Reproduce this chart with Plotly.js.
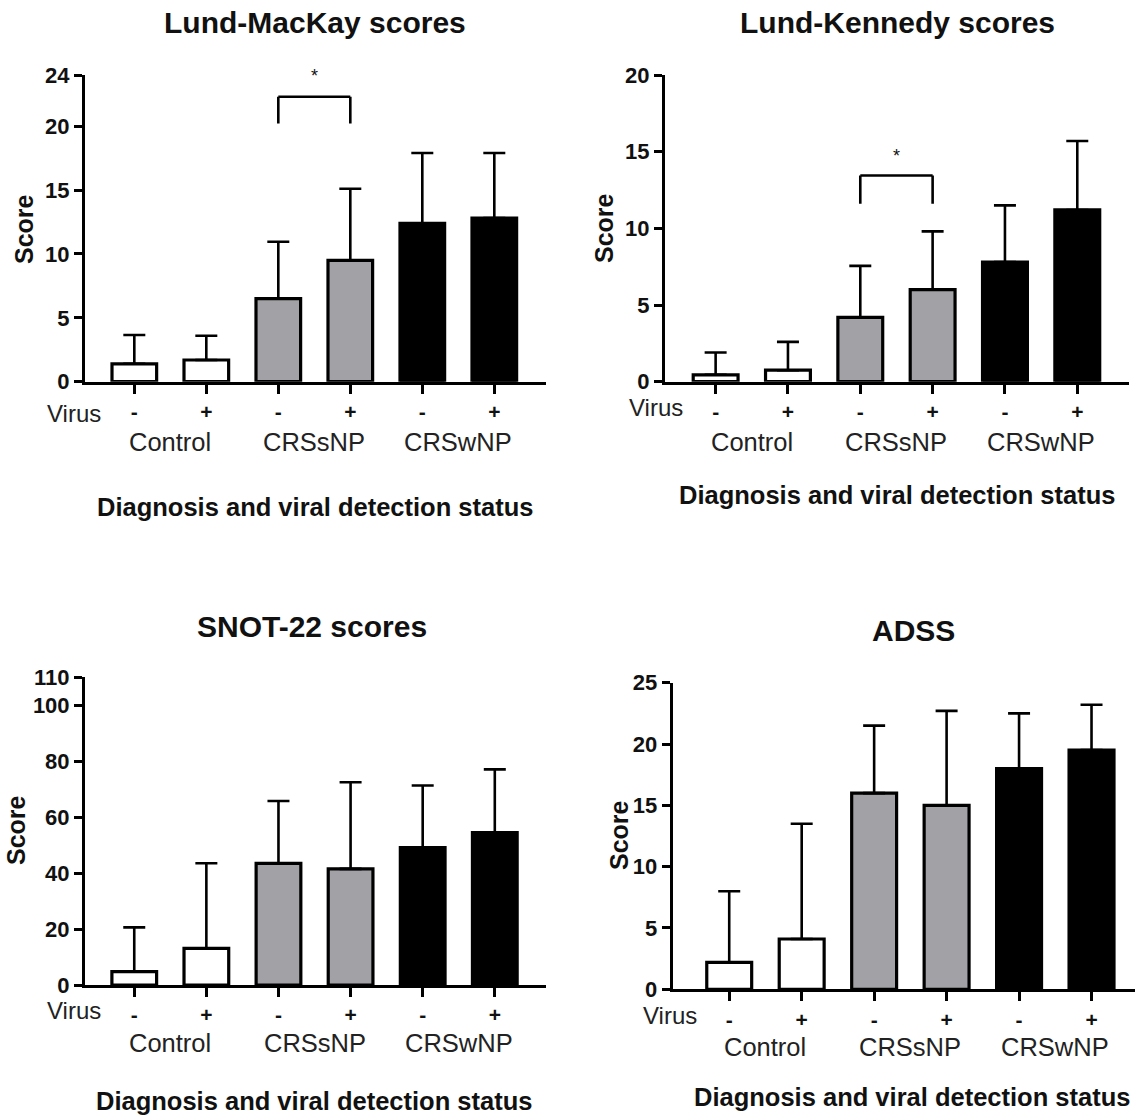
<!DOCTYPE html>
<html>
<head>
<meta charset="utf-8">
<script src="https://cdn.plot.ly/plotly-3.0.1.min.js"></script>
<style>html,body{margin:0;padding:0;background:#fff;}#chart{width:1135px;height:1115px;}</style>
</head>
<body>
<div id="chart"></div>
<script>
// ---- data ----
const categories = ['Control/-', 'Control/+', 'CRSsNP/-', 'CRSsNP/+', 'CRSwNP/-', 'CRSwNP/+'];
const virusSigns = ['-', '+', '-', '+', '-', '+'];
const groupNames = ['Control', 'CRSsNP', 'CRSwNP'];
const barColors = ['#ffffff', '#ffffff', '#a2a2a6', '#a2a2a6', '#000000', '#000000'];

const panelTitles = ['Lund-MacKay scores', 'Lund-Kennedy scores', 'SNOT-22 scores', 'ADSS'];
const xTitle = 'Diagnosis and viral detection status';
const yTitle = 'Score';

const lundMacKayMean = [1.4, 1.7, 6.5, 9.5, 12.4, 12.8];
const lundMacKaySD = [2.25, 1.9, 4.45, 5.6, 5.5, 5.1];
const lundKennedyMean = [0.45, 0.75, 4.2, 6.0, 7.8, 11.2];
const lundKennedySD = [1.45, 1.85, 3.35, 3.8, 3.7, 4.5];
const snot22Mean = [4.8, 13.1, 43.5, 41.5, 49.1, 54.5];
const snot22SD = [15.8, 30.4, 22.3, 31.0, 22.2, 22.6];
const adssMean = [2.2, 4.1, 16.0, 15.0, 18.0, 19.5];
const adssSD = [5.8, 9.4, 5.5, 7.7, 4.5, 3.7];

const lmTicks = [0, 5, 10, 15, 20, 24];
const lkTicks = [0, 5, 10, 15, 20];
const snotTicks = [0, 20, 40, 60, 80, 100, 110];
const adssTicks = [0, 5, 10, 15, 20, 25];

// significance brackets: [from category index, to category index, leg bottom, bracket top, star]
const lmBracket = [2, 3, 20.2, 22.3, 23.9];
const lkBracket = [2, 3, 11.6, 13.45, 14.7];

// ---- layout helpers ----
const W = 1135, H = 1115;
const px = v => v / W;
const py = v => 1 - v / H;
const FONT = 'Liberation Sans, Arial, sans-serif';

const panels = [
  {mean: lundMacKayMean, sd: lundMacKaySD, ticks: lmTicks, xd: [85, 546], yd: [381.7, 75], xr: [-0.685, 5.718],
   title: [315, 22.5], xt: [315, 507], yt: [24, 229], virus: [103, 413], grp: 442, bracket: lmBracket},
  {mean: lundKennedyMean, sd: lundKennedySD, ticks: lkTicks, xd: [665, 1129], yd: [381.7, 75], xr: [-0.70, 5.715],
   title: [897, 22.5], xt: [897, 495], yt: [604, 228], virus: [685, 407], grp: 442, bracket: lkBracket},
  {mean: snot22Mean, sd: snot22SD, ticks: snotTicks, xd: [85, 546], yd: [985, 677.3], xr: [-0.683, 5.71],
   title: [312, 626], xt: [314, 1101], yt: [16, 830], virus: [103, 1010], grp: 1043, bracket: null},
  {mean: adssMean, sd: adssSD, ticks: adssTicks, xd: [672.7, 1135], yd: [989.3, 682.7], xr: [-0.78, 5.6],
   title: [913, 631], xt: [912, 1097], yt: [619, 835], virus: [699, 1015], grp: 1047, bracket: null}
];

const traces = [];
const layout = {
  width: W, height: H,
  margin: {l: 0, r: 0, t: 0, b: 0},
  paper_bgcolor: '#ffffff', plot_bgcolor: '#ffffff',
  showlegend: false,
  font: {family: FONT, color: '#111111'},
  annotations: [], shapes: []
};

panels.forEach((p, i) => {
  const n = i + 1;
  const xa = 'x' + (n === 1 ? '' : n), ya = 'y' + (n === 1 ? '' : n);
  const xk = 'xaxis' + (n === 1 ? '' : n), yk = 'yaxis' + (n === 1 ? '' : n);
  traces.push({
    type: 'bar', x: categories, y: p.mean, xaxis: xa, yaxis: ya,
    width: 0.62,
    marker: {color: barColors, line: {color: '#000000', width: 3.2}},
    error_y: {type: 'data', symmetric: false, array: p.sd, arrayminus: p.sd.map(() => 0),
              color: '#000000', thickness: 2.6, width: 11},
    hoverinfo: 'y'
  });
  layout[xk] = {
    domain: [px(p.xd[0]), px(p.xd[1])], anchor: ya, type: 'category',
    range: p.xr, showgrid: false, zeroline: false,
    showline: true, linecolor: '#000000', linewidth: 3,
    ticks: 'outside', ticklen: 9, tickwidth: 3, tickcolor: '#000000',
    tickvals: categories, ticktext: virusSigns, ticklabelstandoff: 0,
    tickfont: {family: FONT, size: 21, weight: 'bold', color: '#111111'},
    fixedrange: true
  };
  layout[yk] = {
    domain: [py(p.yd[0]), py(p.yd[1])], anchor: xa,
    range: [0, p.ticks[p.ticks.length - 1]], showgrid: false, zeroline: false,
    showline: true, linecolor: '#000000', linewidth: 3,
    ticks: 'outside', ticklen: 8, tickwidth: 3, tickcolor: '#000000',
    tickvals: p.ticks, ticktext: p.ticks.map(String),
    tickfont: {family: FONT, size: 22, weight: 'bold', color: '#111111'},
    fixedrange: true
  };
  // panel title
  layout.annotations.push({text: panelTitles[i], xref: 'paper', yref: 'paper', x: px(p.title[0]), y: py(p.title[1]),
    xanchor: 'center', yanchor: 'middle', showarrow: false, font: {family: FONT, size: 30, weight: 'bold', color: '#111111'}});
  // x title
  layout.annotations.push({text: xTitle, xref: 'paper', yref: 'paper', x: px(p.xt[0]), y: py(p.xt[1]),
    xanchor: 'center', yanchor: 'middle', showarrow: false, font: {family: FONT, size: 25.5, weight: 'bold', color: '#111111'}});
  // y title
  layout.annotations.push({text: yTitle, xref: 'paper', yref: 'paper', x: px(p.yt[0]), y: py(p.yt[1]), textangle: -90,
    xanchor: 'center', yanchor: 'middle', showarrow: false, font: {family: FONT, size: 25, weight: 'bold', color: '#111111'}});
  // Virus label
  layout.annotations.push({text: 'Virus', xref: 'paper', yref: 'paper', x: px(p.virus[0]), y: py(p.virus[1]),
    xanchor: 'right', yanchor: 'middle', showarrow: false, font: {family: FONT, size: 24, color: '#222222'}});
  // group labels
  groupNames.forEach((g, k) => {
    layout.annotations.push({text: g, xref: xa, yref: 'paper', x: 2 * k + 0.5, y: py(p.grp),
      xanchor: 'center', yanchor: 'middle', showarrow: false, font: {family: FONT, size: 25.5, color: '#222222'}});
  });
  // significance bracket
  if (p.bracket) {
    const [a, b, lo, hi, st] = p.bracket;
    const ln = {color: '#000000', width: 2.6};
    layout.shapes.push({type: 'line', xref: xa, yref: ya, x0: a, x1: a, y0: lo, y1: hi, line: ln});
    layout.shapes.push({type: 'line', xref: xa, yref: ya, x0: a, x1: b, y0: hi, y1: hi, line: ln});
    layout.shapes.push({type: 'line', xref: xa, yref: ya, x0: b, x1: b, y0: hi, y1: lo, line: ln});
    layout.annotations.push({text: '*', xref: xa, yref: ya, x: (a + b) / 2, y: st, xanchor: 'center', yanchor: 'middle',
      showarrow: false, font: {family: FONT, size: 18, color: '#111111'}});
  }
});

Plotly.newPlot('chart', traces, layout, {displayModeBar: false, staticPlot: true});
</script>
</body>
</html>
